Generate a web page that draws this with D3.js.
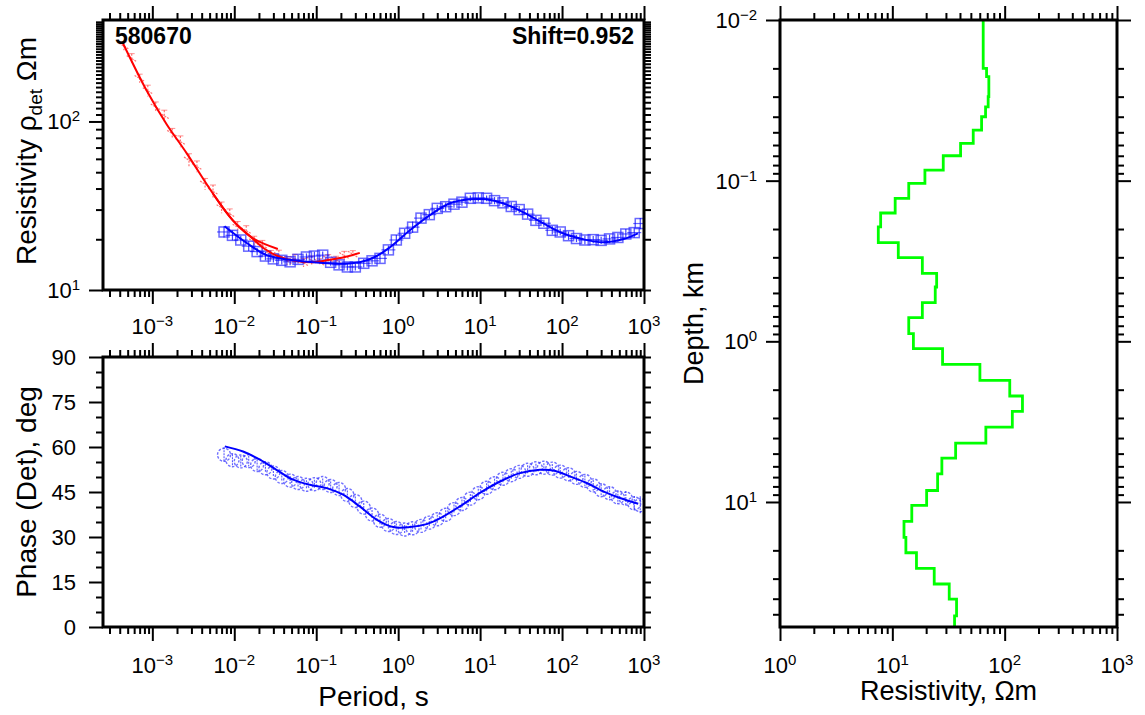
<!DOCTYPE html>
<html>
<head>
<meta charset="utf-8">
<script src="https://cdn.jsdelivr.net/npm/d3@7"></script>
<style>
  body { margin: 0; background: #fff; }
  svg text { font-family: "Liberation Sans", Arial, Helvetica, sans-serif; fill: #000; }
</style>
</head>
<body>
<svg id="chart" width="1145" height="715"></svg>
<script>
// ---------------- DATA ----------------
const stationName = "580670";
const shiftLabel = "Shift=0.952";

// Blue observed data (period, s)
const bluePeriod = [0.0075, 0.0095, 0.012, 0.015, 0.019, 0.024, 0.030, 0.038, 0.048, 0.060,
  0.076, 0.095, 0.12, 0.15, 0.19, 0.24, 0.30, 0.38, 0.48, 0.60,
  0.76, 0.95, 1.2, 1.5, 1.9, 2.4, 3.0, 3.8, 4.8, 6.0,
  7.6, 9.5, 12, 15, 19, 24, 30, 38, 48, 60,
  76, 95, 120, 150, 190, 240, 300, 380, 480, 600,
  760, 900];
const blueRho = [22.1, 21.1, 19.8, 18.2, 16.9, 15.9, 15.3, 15.0, 14.7, 15.2,
  15.7, 15.9, 16.1, 14.6, 14.1, 13.7, 13.7, 14.4, 14.9, 15.4,
  17.3, 19.8, 21.7, 23.6, 26.7, 28.0, 30.5, 31.2, 32.3, 33.2,
  35.0, 35.2, 35.0, 33.9, 32.9, 31.3, 30.0, 28.2, 25.9, 24.9,
  22.6, 22.1, 21.0, 20.2, 19.8, 19.9, 19.7, 20.1, 20.5, 21.5,
  21.9, 24.8];
const blueRhoErr = [0.08, 0.07, 0.06, 0.07, 0.05, 0.06, 0.05, 0.06, 0.05, 0.06,
  0.05, 0.06, 0.05, 0.05, 0.06, 0.05, 0.05, 0.06, 0.05, 0.06,
  0.06, 0.07, 0.06, 0.08, 0.07, 0.06, 0.05, 0.06, 0.05, 0.05,
  0.04, 0.05, 0.04, 0.05, 0.05, 0.06, 0.05, 0.06, 0.06, 0.05,
  0.06, 0.05, 0.06, 0.05, 0.06, 0.05, 0.05, 0.06, 0.06, 0.07,
  0.07, 0.08];
const bluePhase = [57.4, 55.6, 55.2, 55.3, 54.0, 52.9, 51.5, 50.0, 48.8, 48.0,
  47.4, 47.6, 48.0, 47.0, 46.0, 44.0, 42.0, 39.8, 37.5, 35.4,
  34.0, 33.0, 32.5, 32.9, 33.7, 34.8, 35.9, 37.4, 39.3, 41.0,
  42.8, 44.6, 46.4, 47.9, 49.4, 50.6, 51.7, 52.4, 52.9, 53.1,
  52.8, 51.8, 50.9, 49.7, 48.7, 47.2, 45.6, 44.6, 43.2, 42.8,
  41.2, 40.6];
const bluePhaseErr = [2.5, 2.0, 2.0, 1.8, 1.8, 1.5, 1.5, 1.5, 1.5, 1.5,
  1.5, 1.5, 1.5, 1.5, 1.5, 1.5, 1.5, 1.5, 1.5, 1.5,
  1.5, 1.5, 1.5, 1.5, 1.5, 1.5, 1.5, 1.5, 1.5, 1.5,
  1.5, 1.5, 1.5, 1.5, 1.5, 1.5, 1.5, 1.5, 1.5, 1.5,
  1.5, 1.5, 1.5, 1.5, 1.8, 1.8, 2.0, 2.0, 2.2, 2.5,
  2.5, 3.0];

// Red observed data
const redPeriod = [4.5e-4, 5.6e-4, 7.0e-4, 8.8e-4, 1.1e-3, 1.4e-3, 1.75e-3, 2.2e-3, 2.8e-3, 3.5e-3,
  4.4e-3, 5.5e-3, 7.0e-3, 8.8e-3, 0.011, 0.014, 0.0175, 0.022, 0.028, 0.035,
  0.044, 0.055, 0.07, 0.088, 0.11, 0.14, 0.175, 0.22, 0.28];
const redRho = [280, 236, 180, 152, 122, 108, 85, 76, 59, 54,
  42.5, 38.5, 30.8, 28.3, 23.6, 22.5, 19.3, 18.4, 16.2, 16.1,
  14.9, 15.2, 14.5, 15.0, 14.6, 15.3, 15.1, 16.0, 16.3];
const redRhoErr = [0.06, 0.07, 0.06, 0.08, 0.07, 0.08, 0.07, 0.08, 0.09, 0.08,
  0.08, 0.09, 0.08, 0.07, 0.08, 0.07, 0.08, 0.07, 0.06, 0.07,
  0.06, 0.07, 0.06, 0.06, 0.05, 0.06, 0.05, 0.06, 0.05];

// Model response curves
const redModelPeriod = [4.35e-4, 8.55e-4, 1.5e-3, 2.63e-3, 5.46e-3, 9.6e-3, 0.0155, 0.0236, 0.0359, 0.0548, 0.0908, 0.1465, 0.2234, 0.340];
const redModelRho    = [293, 152, 96, 64.7, 37.5, 25.9, 20.9, 17.5, 15.7, 14.9, 14.6, 15.1, 15.7, 16.6];
const redModel2Period = [5.46e-3, 9.6e-3, 0.0168, 0.034];
const redModel2Rho    = [37.5, 25.9, 20.3, 17.5];

const blueModelPeriod = [0.0076, 0.0142, 0.0249, 0.0476, 0.111, 0.194, 0.340, 0.519, 0.792, 1.39, 2.44, 4.28, 7.5, 12.1, 19.0, 33.3, 58.5, 102, 180, 316, 553, 843];
const blueModelRho    = [23.9, 19.0, 16.1, 15.1, 14.5, 14.3, 14.6, 15.7, 17.9, 22.6, 27.8, 32.7, 34.5, 34.5, 32.7, 29.0, 24.9, 21.7, 20.0, 19.2, 20.0, 21.7];

const phaseModelPeriod = [0.00766, 0.0128, 0.0205, 0.0327, 0.0522, 0.0836, 0.134, 0.213, 0.340, 0.545, 0.869, 1.39, 2.22, 3.23, 5.66, 9.95, 17.5, 30.6, 53.7, 78.2, 125, 200, 351, 509, 851];
const phaseModel       = [60.2, 58.5, 55.8, 52.4, 49.1, 47.4, 46.3, 44.1, 40.2, 35.8, 33.3, 33.3, 34.3, 36.2, 40.2, 44.7, 48.5, 51.3, 52.4, 52.2, 50.2, 48.0, 44.7, 43.0, 41.1];

// Layered 1D model (top depth of layer in km, resistivity in Ohm m)
const layerTop = [0.01, 0.020, 0.0225, 0.030, 0.0347, 0.040, 0.0484, 0.0586, 0.070, 0.086,
  0.104, 0.129, 0.159, 0.194, 0.243, 0.301, 0.378, 0.459, 0.574, 0.712,
  0.895, 1.11, 1.39, 1.75, 2.19, 2.73, 3.42, 4.30, 5.34, 6.68,
  8.48, 10.5, 13.2, 16.6, 20.7, 25.9, 32.4, 40.2, 51.1];
const layerRes = [64.4, 69.0, 72.3, 71.3, 67.6, 62.3, 52.5, 40.5, 28.4, 19.5,
  14.0, 10.6, 7.87, 7.5, 11.3, 18.5, 24.8, 24.1, 18.5, 14.0,
  15.4, 28.0, 60.2, 111, 144, 117, 68, 36.6, 27.6, 25.3,
  20.2, 14.9, 12.7, 13.2, 16.4, 23.6, 32.1, 37.3, 35.8];

// Axis domains / ticks
const periodDomain = [2.5e-4, 1000];
const rhoDomain = [10, 400];
const phaseDomain = [0, 90];
const modelResDomain = [1, 1000];
const depthDomain = [0.01, 60];
const phaseMajor = [0, 15, 30, 45, 60, 75, 90];

// ---------------- LAYOUT ----------------
const svg = d3.select("#chart");
svg.append("rect").attr("width", 1145).attr("height", 715).attr("fill", "#fff");

const P1 = {l: 103, r: 644, t: 20, b: 290};
const P2 = {l: 103, r: 644, t: 357, b: 627};
const P3 = {l: 780, r: 1117, t: 20, b: 627};

const xP1 = d3.scaleLog().domain(periodDomain).range([P1.l, P1.r]);
const yRho = d3.scaleLog().domain(rhoDomain).range([P1.b, P1.t]);
const xP2 = d3.scaleLog().domain(periodDomain).range([P2.l, P2.r]);
const yPh = d3.scaleLinear().domain(phaseDomain).range([P2.b, P2.t]);
const xR = d3.scaleLog().domain(modelResDomain).range([P3.l, P3.r]);
const yD = d3.scaleLog().domain(depthDomain).range([P3.t, P3.b]);

const TICKFS = 22, SUPFS = 15, TITLEFS = 28;
const isPow10 = v => Math.abs(Math.log10(v) - Math.round(Math.log10(v))) < 1e-9;

function inDomain(scale, v) {
  const d = scale.domain();
  const lo = Math.min(d[0], d[1]), hi = Math.max(d[0], d[1]);
  return v > lo * (1 + 1e-9) && v < hi * (1 - 1e-9) || (isPow10(v) && v >= lo * (1 - 1e-9) && v <= hi * (1 + 1e-9));
}

function logTicks(scale) {
  const all = scale.ticks(40).filter(v => inDomain(scale, v));
  return {major: all.filter(isPow10), minor: all.filter(v => !isPow10(v))};
}

function ticks(gTransform, axisFn, scale, values, size) {
  const g = svg.append("g").attr("transform", gTransform);
  g.call(axisFn(scale).tickValues(values).tickSize(size).tickFormat(""));
  g.select(".domain").remove();
  g.selectAll("line").attr("stroke", "#000").attr("stroke-width", 2);
  return g;
}

function powLabel(x, y, anchor, v) {
  const e = Math.round(Math.log10(v));
  const t = svg.append("text").attr("x", x).attr("y", y).attr("text-anchor", anchor)
    .attr("font-size", TICKFS);
  t.append("tspan").text("10");
  t.append("tspan").attr("dy", -8).attr("font-size", SUPFS).text(e < 0 ? "\u2212" + (-e) : String(e));
}

function frame(P) {
  svg.append("rect").attr("x", P.l).attr("y", P.t).attr("width", P.r - P.l).attr("height", P.b - P.t)
    .attr("fill", "none").attr("stroke", "#000").attr("stroke-width", 3);
}

function clip(id, P) {
  svg.append("clipPath").attr("id", id).append("rect")
    .attr("x", P.l).attr("y", P.t).attr("width", P.r - P.l).attr("height", P.b - P.t);
  return svg.append("g").attr("clip-path", `url(#${id})`);
}

// ---------------- PANEL 1: apparent resistivity ----------------
{
  const xt = logTicks(xP1), yt = logTicks(yRho);
  ticks(`translate(0,${P1.t})`, d3.axisTop, xP1, xt.major, 14);
  ticks(`translate(0,${P1.t})`, d3.axisTop, xP1, xt.minor, 7);
  ticks(`translate(0,${P1.b})`, d3.axisBottom, xP1, xt.major, 14);
  ticks(`translate(0,${P1.b})`, d3.axisBottom, xP1, xt.minor, 7);
  ticks(`translate(${P1.l},0)`, d3.axisLeft, yRho, yt.major, 14);
  ticks(`translate(${P1.l},0)`, d3.axisLeft, yRho, yt.minor.filter(v => v < 400), 7);
  ticks(`translate(${P1.r},0)`, d3.axisRight, yRho, yt.major.concat(yt.minor.filter(v => v < 400)), 7);
  xt.major.forEach(v => powLabel(xP1(v), P1.b + 44, "middle", v));
  yt.major.forEach(v => powLabel(P1.l - 23, yRho(v) + 8, "end", v));

  const g = clip("c1", P1);
  const lineP = d3.line().x(d => xP1(d[0])).y(d => yRho(d[1])).curve(d3.curveCatmullRom);

  // red data
  const rd = g.append("g");
  redPeriod.forEach((p, i) => {
    const x = xP1(p), y = yRho(redRho[i]);
    const y1 = yRho(redRho[i] * (1 + redRhoErr[i])), y2 = yRho(redRho[i] / (1 + redRhoErr[i]));
    rd.append("line").attr("x1", x).attr("x2", x).attr("y1", y1).attr("y2", y2)
      .attr("stroke", "rgba(255,70,70,0.75)").attr("stroke-width", 1.2).attr("stroke-dasharray", "2,1.5");
    rd.append("line").attr("x1", x - 5).attr("x2", x + 5).attr("y1", y - 3).attr("y2", y + 3)
      .attr("stroke", "rgba(255,70,70,0.75)").attr("stroke-width", 1.2).attr("stroke-dasharray", "2,1");
    rd.append("line").attr("x1", x - 3).attr("x2", x + 3).attr("y1", y1).attr("y2", y1)
      .attr("stroke", "rgba(255,70,70,0.6)").attr("stroke-width", 1);
  });

  // blue data
  const bd = g.append("g");
  bluePeriod.forEach((p, i) => {
    const x = xP1(p), y = yRho(blueRho[i]);
    const y1 = yRho(blueRho[i] * (1 + blueRhoErr[i])), y2 = yRho(blueRho[i] / (1 + blueRhoErr[i]));
    bd.append("rect").attr("x", x - 5).attr("y", y - 5).attr("width", 10).attr("height", 10)
      .attr("fill", "none").attr("stroke", "rgba(40,40,255,0.7)").attr("stroke-width", 1.5);
    bd.append("line").attr("x1", x).attr("x2", x).attr("y1", y1).attr("y2", y2)
      .attr("stroke", "rgba(0,0,255,0.75)").attr("stroke-width", 1.2);
    bd.append("line").attr("x1", x - 7).attr("x2", x + 7).attr("y1", y).attr("y2", y)
      .attr("stroke", "rgba(0,0,255,0.6)").attr("stroke-width", 1.2);
  });

  // model curves
  g.append("path").datum(redModelPeriod.map((p, i) => [p, redModelRho[i]]))
    .attr("d", lineP).attr("fill", "none").attr("stroke", "#ff0000").attr("stroke-width", 2);
  g.append("path").datum(redModel2Period.map((p, i) => [p, redModel2Rho[i]]))
    .attr("d", lineP).attr("fill", "none").attr("stroke", "#ff0000").attr("stroke-width", 2);
  g.append("path").datum(blueModelPeriod.map((p, i) => [p, blueModelRho[i]]))
    .attr("d", lineP).attr("fill", "none").attr("stroke", "#0000ff").attr("stroke-width", 2);

  frame(P1);

  svg.append("text").attr("x", 115).attr("y", 43.5).attr("font-size", 23).attr("font-weight", "bold")
    .text(stationName);
  svg.append("text").attr("x", 634).attr("y", 44).attr("font-size", 23).attr("font-weight", "bold")
    .attr("text-anchor", "end").text(shiftLabel);

  const t = svg.append("text").attr("transform", "translate(36,151) rotate(-90)")
    .attr("text-anchor", "middle").attr("font-size", TITLEFS);
  t.append("tspan").text("Resistivity \u03C1");
  t.append("tspan").attr("font-size", 19).attr("dy", 6).text("det");
  t.append("tspan").attr("dy", -6).text(" \u03A9m");
}

// ---------------- PANEL 2: phase ----------------
{
  const xt = logTicks(xP2);
  const phAll = d3.range(phaseDomain[0], phaseDomain[1] + 1, 5);
  ticks(`translate(0,${P2.t})`, d3.axisTop, xP2, xt.major, 14);
  ticks(`translate(0,${P2.t})`, d3.axisTop, xP2, xt.minor, 7);
  ticks(`translate(0,${P2.b})`, d3.axisBottom, xP2, xt.major, 14);
  ticks(`translate(0,${P2.b})`, d3.axisBottom, xP2, xt.minor, 7);
  ticks(`translate(${P2.l},0)`, d3.axisLeft, yPh, phaseMajor, 14);
  ticks(`translate(${P2.l},0)`, d3.axisLeft, yPh, phAll.filter(v => !phaseMajor.includes(v)), 7);
  ticks(`translate(${P2.r},0)`, d3.axisRight, yPh, phAll, 7);
  xt.major.forEach(v => powLabel(xP2(v), P2.b + 46, "middle", v));
  phaseMajor.forEach(v => {
    svg.append("text").attr("x", 76).attr("y", yPh(v) + 8).attr("text-anchor", "end")
      .attr("font-size", TICKFS).text(v);
  });

  const g = clip("c2", P2);
  const pd = g.append("g");
  bluePeriod.forEach((p, i) => {
    const x = xP2(p), y = yPh(bluePhase[i]);
    pd.append("circle").attr("cx", x).attr("cy", y).attr("r", 6.5)
      .attr("fill", "none").attr("stroke", "rgba(50,50,255,0.7)").attr("stroke-width", 1.4)
      .attr("stroke-dasharray", "2.5,1.5");
    pd.append("line").attr("x1", x).attr("x2", x)
      .attr("y1", yPh(bluePhase[i] + bluePhaseErr[i])).attr("y2", yPh(bluePhase[i] - bluePhaseErr[i]))
      .attr("stroke", "rgba(0,0,255,0.65)").attr("stroke-width", 1.1).attr("stroke-dasharray", "2,1");
  });
  const lineQ = d3.line().x(d => xP2(d[0])).y(d => yPh(d[1])).curve(d3.curveCatmullRom);
  g.append("path").datum(phaseModelPeriod.map((p, i) => [p, phaseModel[i]]))
    .attr("d", lineQ).attr("fill", "none").attr("stroke", "#0000ff").attr("stroke-width", 2);

  frame(P2);

  svg.append("text").attr("transform", `translate(36,${(P2.t + P2.b) / 2}) rotate(-90)`)
    .attr("text-anchor", "middle").attr("font-size", TITLEFS).text("Phase (Det), deg");
  svg.append("text").attr("x", (P2.l + P2.r) / 2).attr("y", 706)
    .attr("text-anchor", "middle").attr("font-size", TITLEFS).text("Period, s");
}

// ---------------- PANEL 3: layered model ----------------
{
  const xt = logTicks(xR), yt = logTicks(yD);
  ticks(`translate(0,${P3.t})`, d3.axisTop, xR, xt.major, 14);
  ticks(`translate(0,${P3.t})`, d3.axisTop, xR, xt.minor, 7);
  ticks(`translate(0,${P3.b})`, d3.axisBottom, xR, xt.major, 14);
  ticks(`translate(0,${P3.b})`, d3.axisBottom, xR, xt.minor, 7);
  ticks(`translate(${P3.l},0)`, d3.axisLeft, yD, yt.major, 14);
  ticks(`translate(${P3.l},0)`, d3.axisLeft, yD, yt.minor, 7);
  ticks(`translate(${P3.r},0)`, d3.axisRight, yD, yt.major, 14);
  ticks(`translate(${P3.r},0)`, d3.axisRight, yD, yt.minor, 7);
  xt.major.forEach(v => powLabel(xR(v), P3.b + 46, "middle", v));
  yt.major.forEach(v => powLabel(P3.l - 23, yD(v) + 8, "end", v));

  const g = clip("c3", P3);
  const pts = [];
  layerTop.forEach((t, i) => {
    const bottom = i < layerTop.length - 1 ? layerTop[i + 1] : depthDomain[1];
    pts.push([layerRes[i], t], [layerRes[i], bottom]);
  });
  g.append("path").datum(pts)
    .attr("d", d3.line().x(d => xR(d[0])).y(d => yD(d[1])))
    .attr("fill", "none").attr("stroke", "#00ff00").attr("stroke-width", 2.8);

  frame(P3);

  svg.append("text").attr("transform", `translate(703,${(P3.t + P3.b) / 2}) rotate(-90)`)
    .attr("text-anchor", "middle").attr("font-size", 27).text("Depth, km");
  svg.append("text").attr("x", (P3.l + P3.r) / 2).attr("y", 700)
    .attr("text-anchor", "middle").attr("font-size", 27).text("Resistivity, \u03A9m");
}
</script>
</body>
</html>
